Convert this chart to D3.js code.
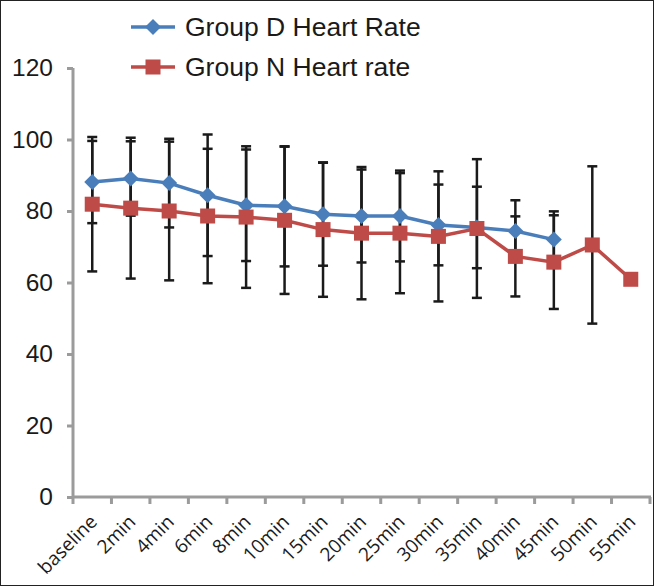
<!DOCTYPE html>
<html>
<head>
<meta charset="utf-8">
<script src="https://cdn.jsdelivr.net/npm/d3@7"></script>
<style>
  html, body { margin: 0; padding: 0; background: #fff; }
  svg { display: block; }
</style>
</head>
<body>
<svg id="chart" width="654" height="586"></svg>
<script>
// ---- data ----
const categories = ["baseline","2min","4min","6min","8min","10min","15min","20min","25min","30min","35min","40min","45min","50min","55min"];
const groupD   = [88.1, 89.1, 87.8, 84.4, 81.6, 81.3, 79.1, 78.6, 78.6, 76.1, 75.4, 74.4, 72.0, null, null];
const groupDsd = [11.5, 10.4, 12.4, 17.0, 15.6, 16.8, 14.4, 13.0, 12.7, 11.3, 11.4, 8.6, 7.9, null, null];
const groupN   = [81.9, 80.8, 80.0, 78.6, 78.3, 77.4, 74.8, 73.8, 73.8, 72.9, 75.1, 67.3, 65.7, 70.5, 60.9];
const groupNsd = [18.8, 19.7, 19.4, 18.8, 19.8, 20.6, 18.8, 18.5, 16.8, 18.2, 19.4, 11.2, 13.1, 22.0, null];
const yTicks = [0, 20, 40, 60, 80, 100, 120];
const seriesNames = ["Group D Heart Rate", "Group N Heart rate"];
const colors = ["#4A7EBB", "#BE4B48"];

const svg = d3.select("#chart");
const W = 654, H = 586;

// outer border
svg.append("rect").attr("x", 0.5).attr("y", 0.5).attr("width", W - 1).attr("height", H - 1)
  .attr("fill", "#fff").attr("stroke", "#222").attr("stroke-width", 1);

const x = d3.scaleBand().domain(categories).range([73, 650]).paddingInner(0).paddingOuter(0);
const y = d3.scaleLinear().domain([0, 120]).range([497, 68]);
const cx = c => x(c) + x.bandwidth() / 2;

const axisColor = "#9B9B9B";

// Y axis
const yAxis = svg.append("g").attr("transform", "translate(73,0)")
  .call(d3.axisLeft(y).tickValues(yTicks).tickSize(6).tickPadding(14));
yAxis.select(".domain").attr("stroke", axisColor).attr("stroke-width", 3).attr("d", `M0,${y(120)}V${y(0)}`);
yAxis.selectAll(".tick line").attr("stroke", axisColor).attr("stroke-width", 3);
yAxis.selectAll(".tick text").attr("fill", "#1a1a1a")
  .style("font-family", "'Liberation Sans', Arial, sans-serif").style("font-size", "24.5px");

// X axis
const xAxis = svg.append("g").attr("transform", `translate(0,${y(0)})`)
  .call(d3.axisBottom(x).tickSize(0).tickFormat(""));
xAxis.select(".domain").attr("stroke", axisColor).attr("stroke-width", 3).attr("d", `M72,0H651`);
// boundary ticks
const bounds = categories.map(c => x(c)).concat([x.range()[1]]);
xAxis.selectAll(".btick").data(bounds).enter().append("line")
  .attr("x1", d => d).attr("x2", d => d).attr("y1", 0).attr("y2", 7)
  .attr("stroke", axisColor).attr("stroke-width", 3);
// labels
xAxis.selectAll(".xlab").data(categories).enter().append("text")
  .attr("transform", d => `translate(${cx(d) + 6},${26}) rotate(-45)`)
  .attr("text-anchor", "end")
  .attr("fill", "#1a1a1a")
  .style("font-family", "'Open Sans', sans-serif").style("font-size", "19px")
  .text(d => d);

// error bars
const capW = 5;
function errorBars(vals, sds) {
  const g = svg.append("g");
  categories.forEach((c, i) => {
    if (vals[i] == null || sds[i] == null) return;
    const top = y(vals[i] + sds[i]), bot = y(vals[i] - sds[i]), xc = cx(c);
    g.append("line").attr("x1", xc).attr("x2", xc).attr("y1", top).attr("y2", bot)
      .attr("stroke", "#1a1a1a").attr("stroke-width", 2.5);
    [top, bot].forEach(yy => g.append("line").attr("x1", xc - capW).attr("x2", xc + capW)
      .attr("y1", yy).attr("y2", yy).attr("stroke", "#1a1a1a").attr("stroke-width", 2.5));
  });
}
errorBars(groupD, groupDsd);
errorBars(groupN, groupNsd);

const line = d3.line().defined(d => d.v != null).x(d => cx(d.c)).y(d => y(d.v));

function series(vals, color, shape) {
  const pts = categories.map((c, i) => ({c, v: vals[i]})).filter(d => d.v != null);
  svg.append("path").datum(pts).attr("d", line).attr("fill", "none")
    .attr("stroke", color).attr("stroke-width", 3.5);
  pts.forEach(d => drawMarker(cx(d.c), y(d.v), color, shape));
}
function drawMarker(px, py, color, shape) {
  if (shape === "diamond") {
    const r = 8;
    svg.append("path").attr("d", `M${px},${py - r}L${px + r},${py}L${px},${py + r}L${px - r},${py}Z`)
      .attr("fill", color);
  } else {
    const s = 15;
    svg.append("rect").attr("x", px - s / 2).attr("y", py - s / 2).attr("width", s).attr("height", s)
      .attr("fill", color);
  }
}
series(groupD, colors[0], "diamond");
series(groupN, colors[1], "square");

// legend
const legendItems = [
  {name: seriesNames[0], color: colors[0], shape: "diamond", y: 27},
  {name: seriesNames[1], color: colors[1], shape: "square", y: 67}
];
legendItems.forEach(it => {
  svg.append("line").attr("x1", 131).attr("x2", 175).attr("y1", it.y).attr("y2", it.y)
    .attr("stroke", it.color).attr("stroke-width", 3.5);
  drawMarker(153, it.y, it.color, it.shape);
  svg.append("text").attr("x", 185).attr("y", it.y).attr("dy", "0.35em")
    .attr("fill", "#1a1a1a")
    .style("font-family", "'Liberation Sans', Arial, sans-serif").style("font-size", "26.5px")
    .text(it.name);
});
</script>
</body>
</html>
